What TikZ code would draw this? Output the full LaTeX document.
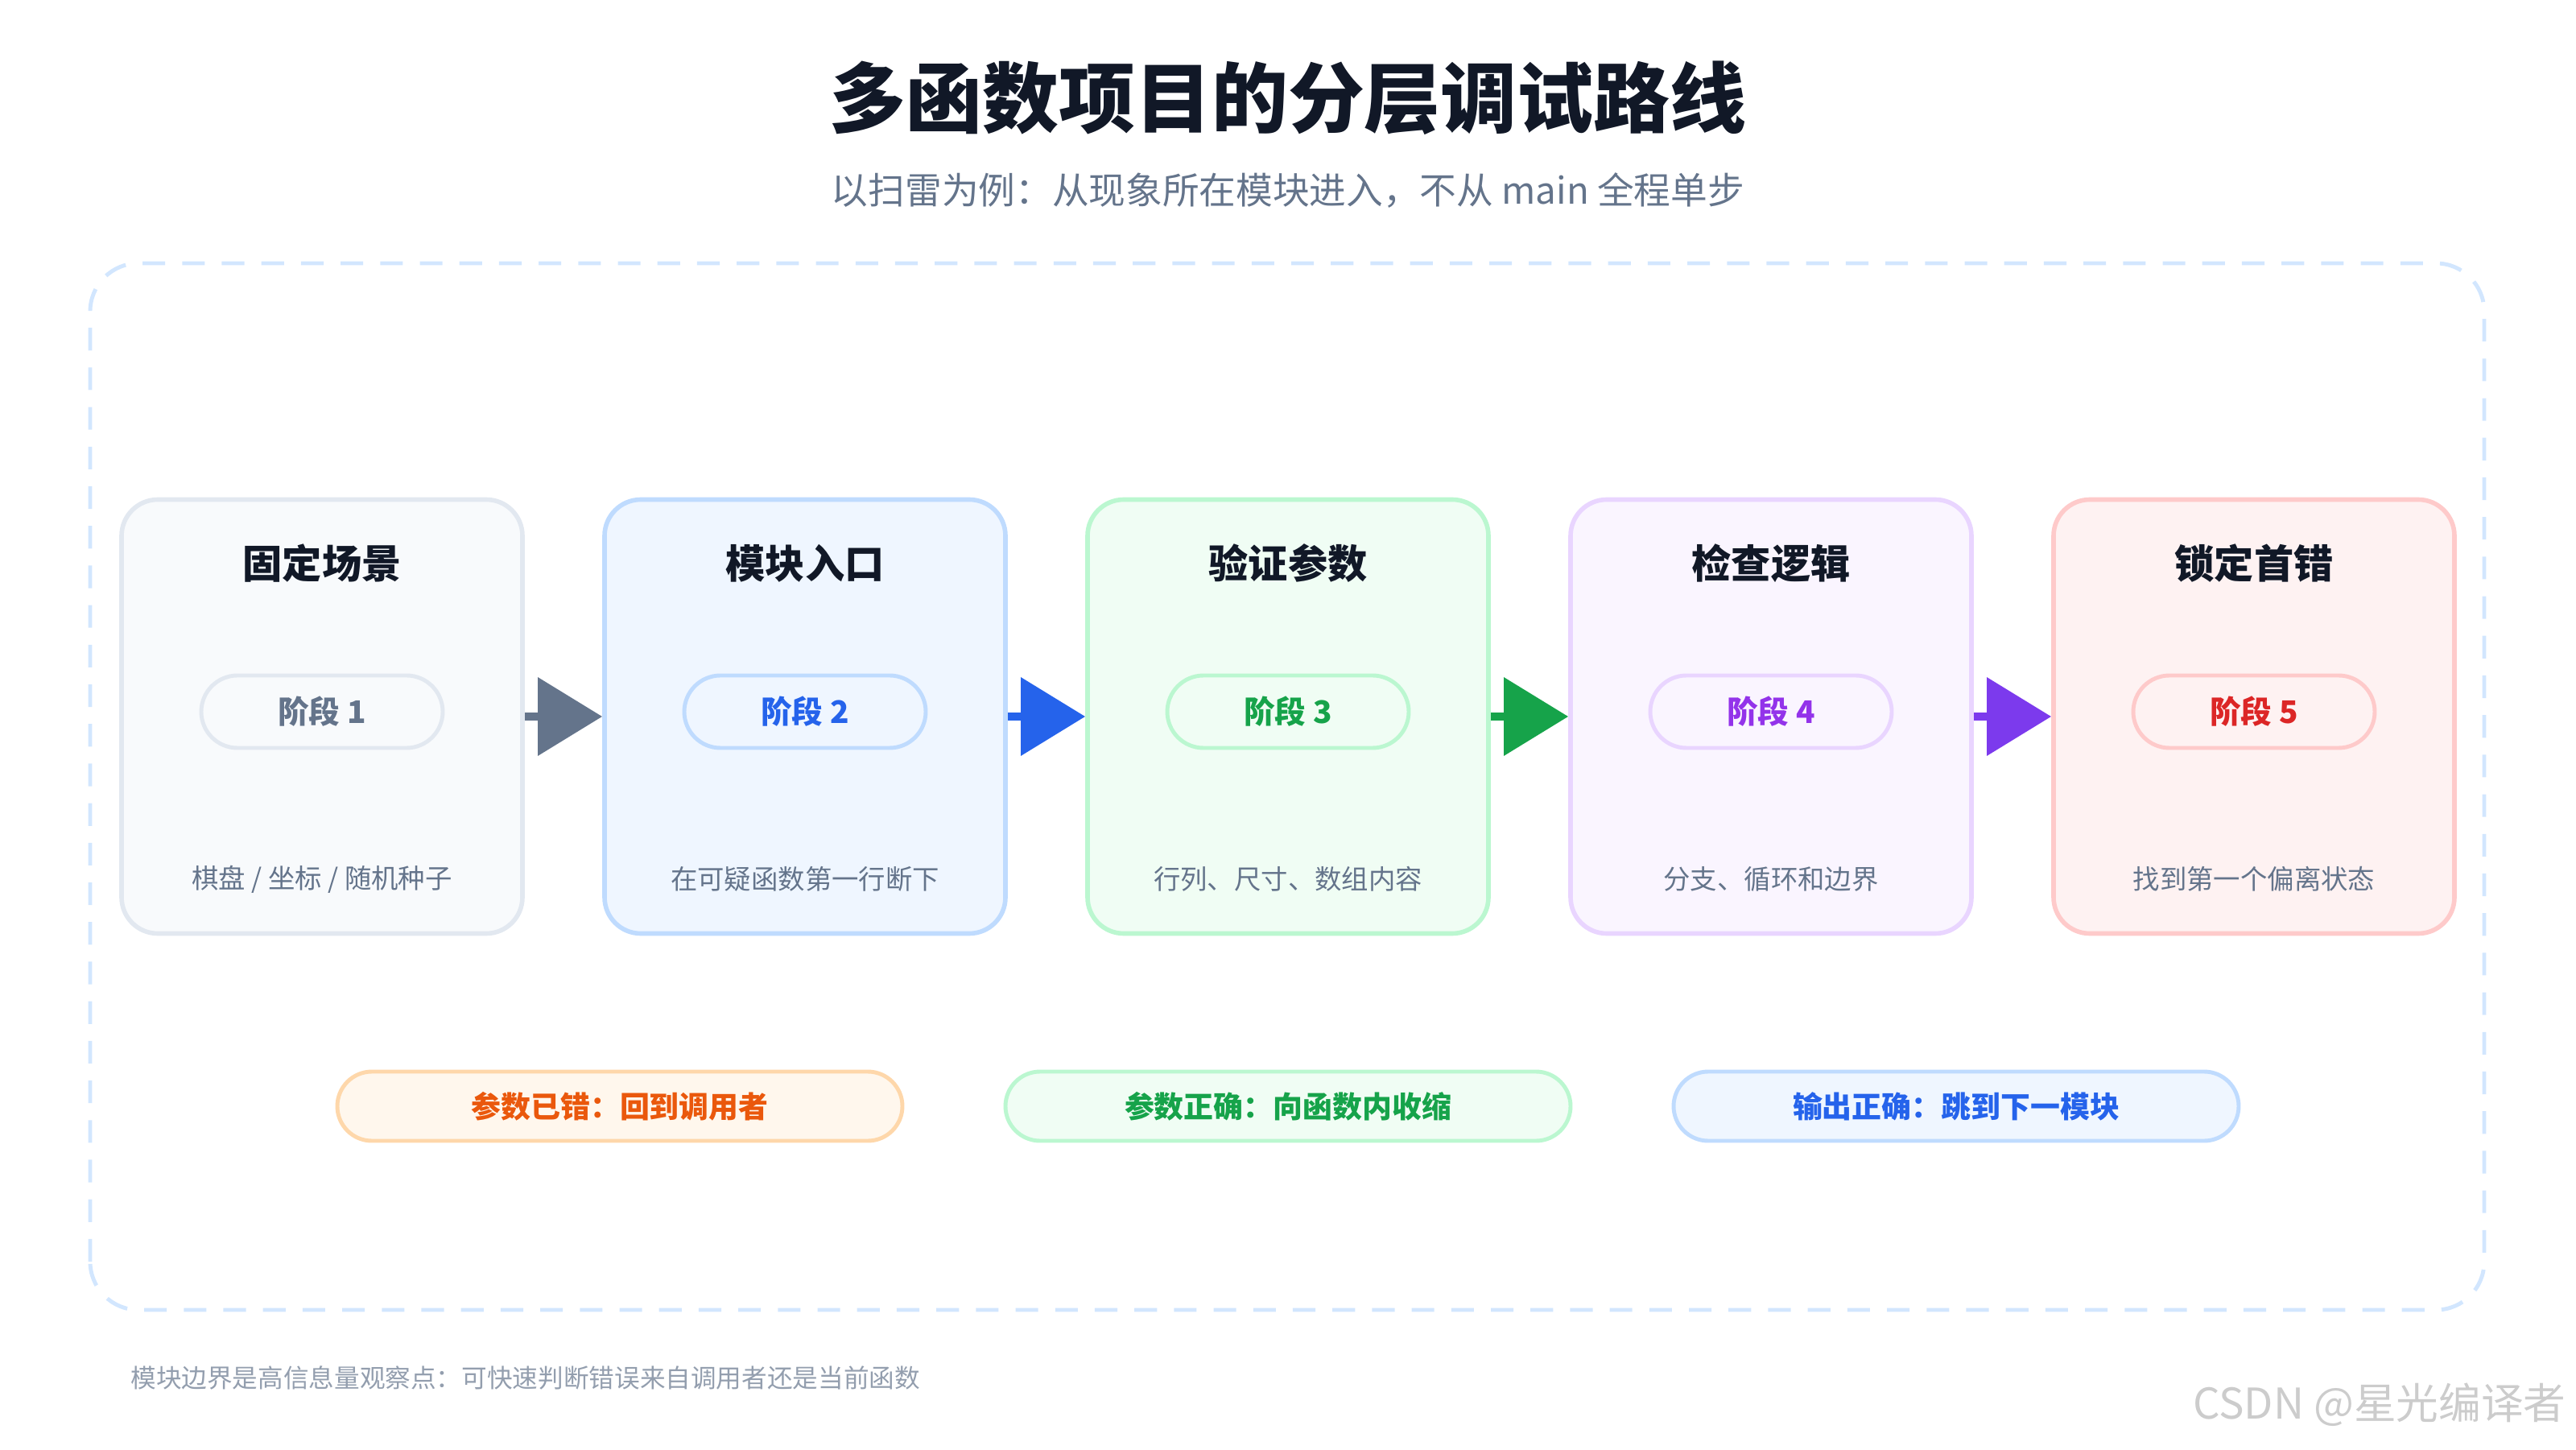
\documentclass[tikz,border=0pt]{standalone}
\usepackage{fontspec}
\setmainfont{Noto Sans CJK SC}
\usetikzlibrary{positioning,calc,arrows.meta}
\definecolor{ink}{HTML}{111827}
\definecolor{sub}{HTML}{64748B}
\definecolor{grayF}{HTML}{F8FAFC}\definecolor{grayB}{HTML}{E2E8F0}\definecolor{grayT}{HTML}{64748B}
\definecolor{blueF}{HTML}{EFF6FF}\definecolor{blueB}{HTML}{BFDBFE}\definecolor{blueT}{HTML}{2563EB}
\definecolor{greenF}{HTML}{F0FDF4}\definecolor{greenB}{HTML}{BBF7D0}\definecolor{greenT}{HTML}{16A34A}
\definecolor{purpF}{HTML}{FAF5FF}\definecolor{purpB}{HTML}{E9D5FF}\definecolor{purpT}{HTML}{9333EA}
\definecolor{redF}{HTML}{FEF2F2}\definecolor{redB}{HTML}{FECACA}\definecolor{redT}{HTML}{DC2626}
\definecolor{orF}{HTML}{FFF7ED}\definecolor{orB}{HTML}{FED7AA}\definecolor{orT}{HTML}{EA580C}
\definecolor{arrP}{HTML}{7C3AED}
\tikzset{
  stage/.style={draw=#1B, fill=#1F, line width=1.6pt, rounded corners=0.45cm,
    minimum width=4.98cm, minimum height=5.39cm},
  head/.style={font=\fontsize{14}{16}\selectfont\bfseries, text=ink},
  pill/.style={draw=#1B, fill=#1F, text=#1T, line width=1.4pt, rounded corners=0.45cm,
    minimum width=3cm, minimum height=0.9cm, font=\fontsize{11}{13}\selectfont\bfseries},
  note/.style={font=\fontsize{9.5}{11}\selectfont, text=sub},
  rule/.style={draw=#1B, fill=#1F, text=#1T, line width=1.4pt, rounded corners=0.43cm,
    minimum width=7.02cm, minimum height=0.86cm, font=\fontsize{10.5}{12}\selectfont\bfseries},
  flow/.style={line width=3pt, draw=#1, -{Triangle[width=0.95cm,length=0.8cm]}, fill=#1},
}
\begin{document}
\begin{tikzpicture}
  \useasboundingbox (0,0) rectangle (32,18);
  \node[font=\fontsize{27}{30}\selectfont\bfseries, text=ink] (title) at (16,16.78) {多函数项目的分层调试路线};
  \node[font=\fontsize{13}{15}\selectfont, text=sub] (subtitle) at (16,15.63) {以扫雷为例：从现象所在模块进入，不从 main 全程单步};
  \draw[draw=blueB!70, line width=1.4pt, dash pattern=on 8pt off 6pt, rounded corners=0.6cm]
    (1.12,1.73) rectangle (30.86,14.73);

  % stages
  \foreach \i/\c/\t/\n in {
      1/gray/固定场景/{棋盘 / 坐标 / 随机种子},
      2/blue/模块入口/在可疑函数第一行断下,
      3/green/验证参数/行列、尺寸、数组内容,
      4/purp/检查逻辑/分支、循环和边界,
      5/red/锁定首错/找到第一个偏离状态}{
    \node[stage=\c] (s\i) at ({4+6*(\i-1)},9.1) {};
    \node[head] (h\i) at ($(s\i.center)+(0,1.9)$) {\t};
    \node[pill=\c] (p\i) at ($(s\i.center)+(0,0.06)$) {阶段 \i};
    \node[note] (n\i) at ($(s\i.center)+(0,-2.02)$) {\n};
  }

  \draw[flow=grayT] (s1.east) -- (s2.west);
  \draw[flow=blueT] (s2.east) -- (s3.west);
  \draw[flow=greenT] (s3.east) -- (s4.west);
  \draw[flow=arrP] (s4.east) -- (s5.west);

  % outcomes
  \node[rule=or] (r1) at (7.7,4.26) {参数已错：回到调用者};
  \node[rule=green] (r2) at (16,4.26) {参数正确：向函数内收缩};
  \node[rule=blue] (r3) at (24.3,4.26) {输出正确：跳到下一模块};

  \node[note, font=\fontsize{9}{11}\selectfont, text=sub!70, anchor=west] (foot) at (1.5,0.89)
    {模块边界是高信息量观察点：可快速判断错误来自调用者还是当前函数};
  \node[font=\fontsize{15}{17}\selectfont, text=black!20, anchor=east] (mark) at (32,0.55) {CSDN @星光编译者};
\end{tikzpicture}
\end{document}
